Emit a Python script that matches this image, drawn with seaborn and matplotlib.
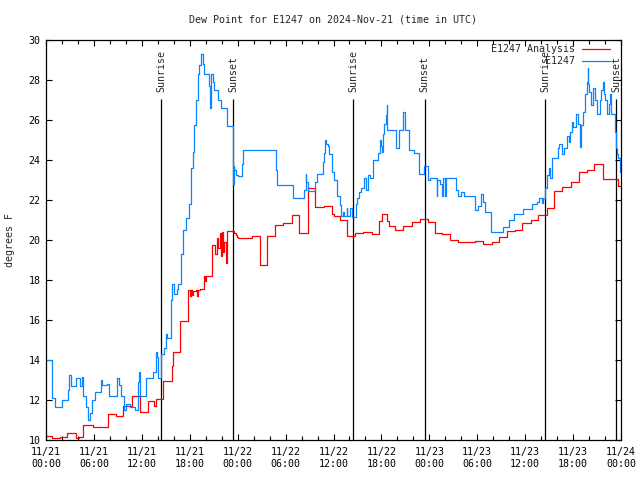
import numpy as np
import pandas as pd
import matplotlib
matplotlib.use("Agg")
import matplotlib.pyplot as plt
import matplotlib.dates as mdates
from matplotlib.lines import Line2D
import seaborn as sns

# ---------------- data ----------------
title = "Dew Point for E1247 on 2024-Nov-21 (time in UTC)"
start = pd.Timestamp("2024-11-21 00:00")

# E1247 Analysis (red), hours since start and dew point (F)
analysis_hours = [0.0, 0.71, 1.75, 2.59, 3.72, 4.13, 4.67, 5.92, 7.73, 8.77, 9.68, 10.73,
                  11.77, 12.81, 13.56, 13.77, 14.69, 15.74, 15.85, 16.83, 17.72, 18.09,
                  18.16, 18.28, 18.41, 18.75, 18.91, 19.03, 19.28, 19.78, 19.91, 20.04,
                  20.82, 21.2, 21.35, 21.55, 21.75, 21.9, 22.05, 22.2, 22.35, 22.5, 22.6,
                  22.72, 23.6, 23.75, 23.9, 24.0, 25.76, 26.80, 27.71, 28.68, 29.71, 30.77,
                  31.72, 32.77, 33.68, 34.85, 35.78, 36.10, 36.81, 37.65, 38.69, 39.73,
                  40.78, 41.74, 42.04, 42.66, 42.99, 43.70, 44.74, 45.79, 46.83, 47.87,
                  48.71, 49.55, 50.59, 51.63, 53.72, 54.76, 55.81, 56.72, 57.69, 58.73,
                  59.64, 60.69, 61.64, 62.70, 63.65, 64.65, 65.70, 66.74, 67.71, 68.66,
                  69.71, 71.59, 72.0]
analysis_vals = [10.2, 10.08, 10.15, 10.33, 10.08, 10.17, 10.73, 10.63, 11.3, 11.2, 11.7, 12.2,
                 11.4, 11.95, 11.72, 12.03, 12.95, 13.7, 14.4, 15.95, 17.5, 17.2,
                 17.5, 17.25, 17.45, 17.5, 17.2, 17.5, 17.55, 18.2, 17.95, 18.2,
                 19.75, 19.3, 20.1, 19.6, 20.35, 19.2, 20.4, 19.4, 19.9, 19.0, 18.85,
                 20.45, 20.35, 20.25, 20.15, 20.1, 20.2, 18.75, 20.18, 20.73, 20.83, 21.23,
                 20.33, 22.58, 21.63, 21.7, 21.28, 21.2, 21.0, 20.22, 20.33, 20.4,
                 20.3, 20.95, 21.3, 20.95, 20.7, 20.5, 20.7, 20.9, 21.05, 20.9,
                 20.33, 20.3, 20.0, 19.9, 19.95, 19.8, 19.9, 20.17, 20.45, 20.5,
                 20.83, 21.0, 21.25, 21.6, 22.45, 22.67, 22.9, 23.4, 23.5, 23.8,
                 23.05, 22.7, 22.7]

# E1247 observations (blue)
obs_hours = [0.0, 0.75, 1.13, 1.97, 2.72, 2.88, 3.13, 3.72, 4.26, 4.51, 4.63, 5.05, 5.26,
             5.51, 5.80, 6.14, 6.89, 7.05, 7.60, 7.89, 8.93, 9.14, 9.35, 9.77, 10.02,
             10.52, 11.14, 11.48, 11.62, 11.77, 12.48, 13.36, 13.74, 13.86, 14.02, 14.40,
             14.78, 15.03, 15.11, 15.61, 15.82, 16.03, 16.40, 16.57, 16.87, 17.19, 17.53,
             17.87, 18.12, 18.16, 18.44, 18.53, 18.78, 19.00, 19.20, 19.37, 19.70, 19.82,
             20.41, 20.50, 20.62, 20.87, 21.04, 21.50, 21.88, 22.70, 23.38, 23.44, 23.48,
             23.54, 23.75, 24.04, 24.51, 24.67, 28.80, 28.96, 30.89, 32.31, 32.52, 32.56,
             32.77, 33.68, 33.90, 34.65, 34.81, 34.90, 35.06, 35.27, 35.47, 35.78, 36.06,
             36.40, 36.81, 36.94, 37.19, 37.32, 37.65, 37.73, 38.07, 38.30, 38.78, 38.94,
             39.23, 39.44, 39.82, 40.07, 40.32, 40.57, 40.98, 41.61, 41.82, 41.91, 42.07,
             42.24, 42.37, 42.54, 42.66, 42.70, 43.79, 44.20, 44.67, 44.95, 45.49, 46.08,
             46.74, 47.33, 47.80, 48.08, 48.92, 48.96, 49.34, 49.59, 49.71, 49.96, 50.09,
             51.34, 51.59, 51.93, 52.34, 53.72, 54.09, 54.43, 54.72, 54.97, 55.68, 57.26,
             57.98, 58.64, 59.77, 60.82, 61.45, 61.73, 62.11, 62.23, 62.48, 62.77, 63.02,
             63.11, 63.32, 64.07, 64.24, 64.58, 64.90, 65.20, 65.53, 65.61, 65.83, 66.03,
             66.37, 66.62, 66.87, 67.00, 67.28, 67.49, 67.71, 67.83, 67.91, 68.04, 68.25,
             68.53, 68.75, 68.96, 69.37, 69.50, 69.79, 69.87, 70.00, 70.21, 70.54, 70.63,
             70.75, 71.25, 71.34, 71.50, 71.66, 71.88, 72.0]
obs_vals = [14.0, 12.1, 11.67, 12.0, 12.5, 13.25, 12.7, 13.1, 12.7, 13.15, 12.2, 11.67, 11.0,
            11.33, 12.0, 12.4, 13.0, 12.75, 12.8, 12.2, 13.1, 12.75, 12.2, 11.5, 11.8,
            11.67, 11.5, 12.9, 13.4, 12.2, 13.1, 13.4, 14.4, 14.15, 13.1, 14.3,
            14.6, 15.3, 15.1, 17.0, 17.8, 17.3, 17.55, 17.8, 19.3, 20.5, 21.1,
            21.8, 23.0, 23.6, 24.4, 25.75, 27.0, 28.3, 28.75, 29.3, 28.8, 28.3,
            27.7, 26.6, 28.3, 27.9, 27.5, 27.0, 26.6, 25.7, 24.25, 22.8, 23.7,
            23.5, 23.25, 23.2, 23.8, 24.5, 23.5, 22.75, 22.1, 22.5, 23.3, 22.9,
            22.45, 22.9, 23.3, 23.9, 24.33, 25.0, 24.8, 24.7, 24.3, 23.4, 23.0,
            22.2, 21.75, 21.2, 21.4, 21.2, 21.6, 21.2, 21.6, 21.15, 21.8, 22.1,
            22.4, 22.6, 23.1, 22.5, 23.25, 23.1, 24.0, 24.33, 25.0, 24.7, 24.4,
            25.3, 25.8, 26.25, 26.75, 25.5, 24.6, 25.5, 26.4, 25.5, 24.5, 24.33,
            23.3, 23.7, 23.0, 23.1, 22.2, 23.0, 22.8, 22.2, 23.1, 22.2, 23.1,
            22.5, 22.2, 22.4, 22.2, 21.5, 21.7, 22.3, 21.9, 21.4, 20.4, 20.67,
            21.0, 21.3, 21.55, 21.8, 21.9, 22.1, 21.87, 22.1, 22.6, 23.25, 23.6,
            23.1, 24.1, 24.6, 24.8, 24.3, 24.6, 25.2, 24.9, 25.4, 25.9, 25.67,
            26.3, 25.8, 24.67, 25.75, 26.4, 27.3, 27.9, 28.6, 27.8, 27.4, 26.75,
            27.6, 27.0, 26.3, 27.0, 27.5, 27.9, 27.3, 27.0, 26.3, 26.8, 27.3,
            26.3, 25.4, 24.6, 24.3, 24.1, 23.4, 23.4]

series_names = ["E1247 Analysis", "E1247"]
series_colors = ["#ff0000", "#0a84ff"]

sun_labels = ["Sunrise", "Sunset", "Sunrise", "Sunset", "Sunrise", "Sunset"]
sun_hours = [14.43, 23.45, 38.45, 47.43, 62.47, 71.43]

yticks = list(range(10, 31, 2))

# ---------------- build frame ----------------
df = pd.concat([
    pd.DataFrame({"time": start + pd.to_timedelta(analysis_hours, unit="h"),
                  "dewpoint": analysis_vals, "series": series_names[0]}),
    pd.DataFrame({"time": start + pd.to_timedelta(obs_hours, unit="h"),
                  "dewpoint": obs_vals, "series": series_names[1]}),
], ignore_index=True)
sun_times = start + pd.to_timedelta(sun_hours, unit="h")

# ---------------- style ----------------
sns.set_style("ticks")
plt.rcParams["font.family"] = ["DejaVu Sans Mono", "DejaVu Sans"]
plt.rcParams["font.size"] = 7.2

fig = plt.figure(figsize=(6.4, 4.8), dpi=100)
ax = fig.add_axes([46 / 640, 40 / 480, 575 / 640, 400 / 480])

# sunrise / sunset markers
ax.vlines(sun_times, 10, 27.03, colors="black", linewidth=0.9, zorder=1)
for t, lab in zip(sun_times, sun_labels):
    ax.text(t, 27.4, lab, rotation=90, ha="center", va="bottom",
            fontsize=7.2, clip_on=False, zorder=1)

palette = dict(zip(series_names, series_colors))
sns.lineplot(data=df, x="time", y="dewpoint", hue="series", hue_order=series_names,
             palette=palette, drawstyle="steps-post", linewidth=0.9,
             estimator=None, legend=False, ax=ax, zorder=2)

ax.set_xlim(start, start + pd.Timedelta(hours=72))
ax.set_ylim(10, 30)
ax.set_yticks(yticks)
ax.set_yticklabels([str(v) for v in yticks])
ax.xaxis.set_major_locator(mdates.HourLocator(byhour=range(0, 24, 6)))
ax.xaxis.set_minor_locator(mdates.HourLocator(byhour=range(0, 24, 2)))
ax.xaxis.set_major_formatter(mdates.DateFormatter("%m/%d\n%H:%M"))
ax.tick_params(axis="both", which="both", direction="in", top=True, right=True,
               colors="black", labelsize=7.2, width=0.8)
ax.tick_params(axis="both", which="major", length=4.5, pad=4)
ax.tick_params(axis="x", which="minor", length=3)
ax.tick_params(axis="x", which="major", pad=5)
for s in ax.spines.values():
    s.set_linewidth(0.9)
    s.set_color("black")
ax.set_xlabel("")
ax.set_ylabel("")

fig.text(333 / 640, 1 - 19 / 480, title, ha="center", va="center", fontsize=7.2)
fig.text(10 / 640, 240 / 480, "degrees F", rotation=90, ha="center", va="center",
         fontsize=7.2)

handles = [Line2D([], [], color=c, linewidth=0.9) for c in series_colors]
ax.legend(handles, series_names, loc="upper right", frameon=False, markerfirst=False,
          bbox_to_anchor=(610 / 640, 1 - 44 / 480), bbox_transform=fig.transFigure,
          handlelength=2.8, handletextpad=0.7, labelspacing=0.2, borderpad=0,
          borderaxespad=0, alignment="right", fontsize=7.2)

fig.savefig("out.png", dpi=100)
